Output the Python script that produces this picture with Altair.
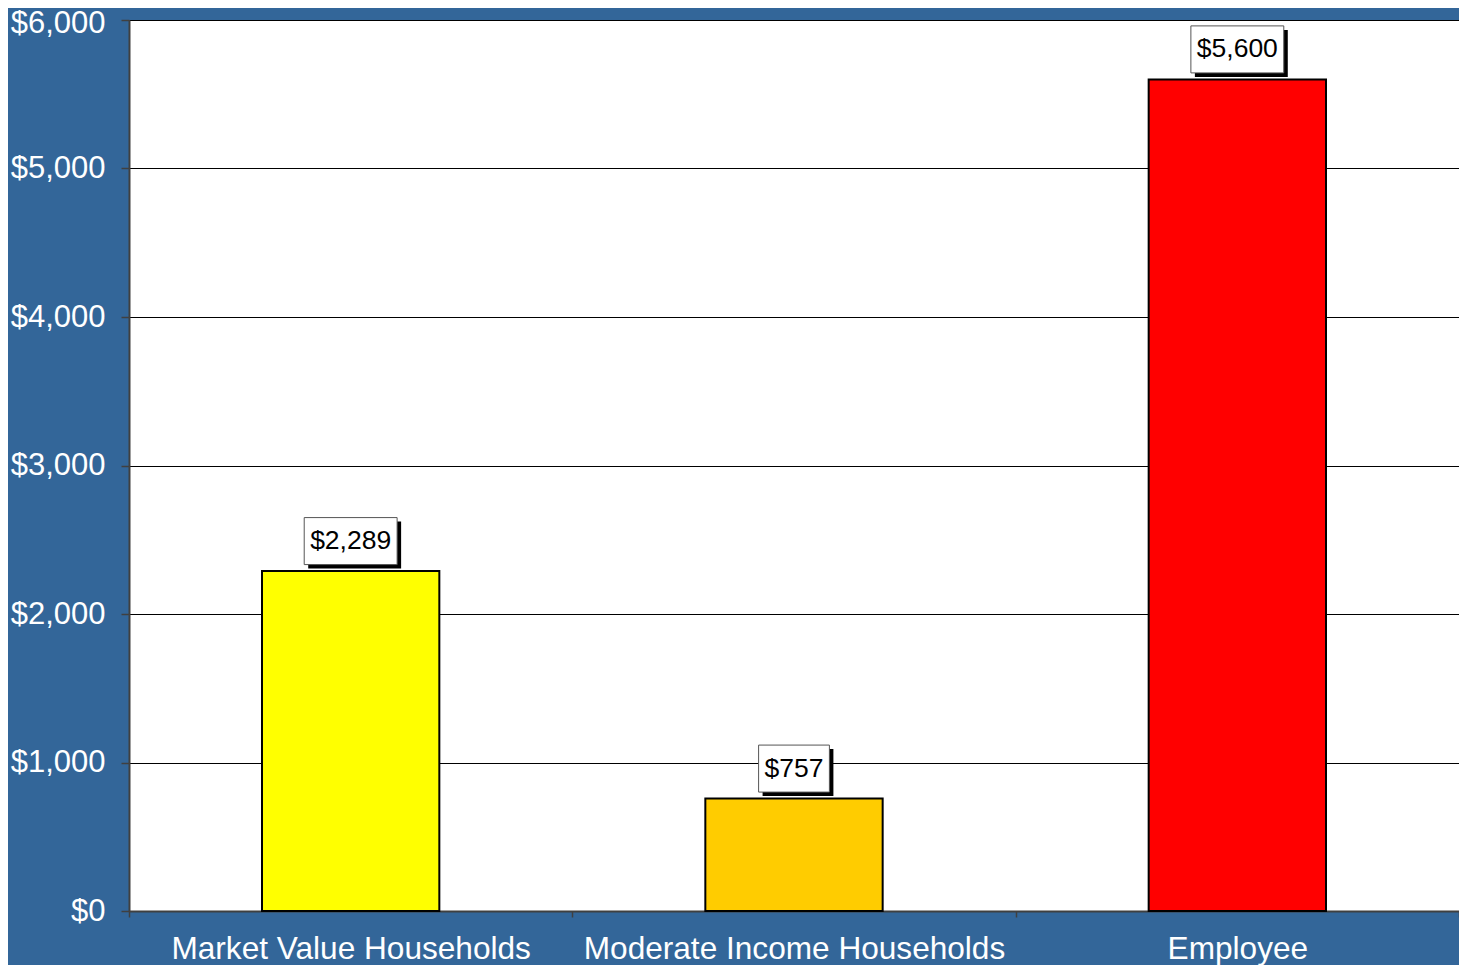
import altair as alt
import pandas as pd

categories = ["Market Value Households", "Moderate Income Households", "Employee"]
values = [2289, 757, 5600]
bar_colors = ["#FFFF00", "#FFCC00", "#FF0000"]
y_ticks = [0, 1000, 2000, 3000, 4000, 5000, 6000]

df = pd.DataFrame({"category": categories, "value": values})

# label box shapes sized from label text length (approx Arial width at 26.5px)
def label_text(v):
    return "${:,.0f}".format(v)

def box_path(txt):
    w = 0
    for ch in txt:
        w += 7.4 if ch == "," else 14.7
    hw = (w + 12) / 100.0
    hh = 0.47
    return f"M{-hw:.3f},{-hh}L{hw:.3f},{-hh}L{hw:.3f},{hh}L{-hw:.3f},{hh}Z"

paths = [box_path(label_text(v)) for v in values]

FONT = "Liberation Sans"
BG = "#336699"

x_enc = alt.X("category:N", sort=categories,
              scale=alt.Scale(paddingInner=0, paddingOuter=0),
              axis=alt.Axis(title=None, labelColor="white", labelFontSize=31.6, labelFont=FONT,
                            labelAngle=0, labelPadding=16, labelLimit=0, tickSize=6, tickColor="#404040",
                            tickWidth=1.5, domainColor="#404040", domainWidth=2,
                            tickBand="extent", grid=False, labelBaseline="top"))
y_enc = alt.Y("value:Q", scale=alt.Scale(domain=[0, 6000], nice=False),
              axis=alt.Axis(title=None, values=y_ticks, format="$,.0f", labelColor="white",
                            labelFontSize=31, labelFont=FONT, labelPadding=16, tickSize=8,
                            labelOffset={"condition": {"test": "datum.value == 6000", "value": 3}, "value": 0},
                            tickColor="#404040", tickWidth=1.5, domainColor="#404040", domainWidth=2,
                            grid=True, gridColor="black", gridWidth=1))

base = alt.Chart(df)

bars = base.mark_bar(stroke="black", strokeWidth=2, width=alt.RelativeBandSize(0.4)).encode(
    x=x_enc, y=y_enc,
    color=alt.Color("category:N", scale=alt.Scale(domain=categories, range=bar_colors), legend=None),
)

shape_enc = alt.Shape("category:N", scale=alt.Scale(domain=categories, range=paths), legend=None)

shadow = base.mark_point(filled=True, fill="black", size=10000, xOffset=4, yOffset=-26, opacity=1).encode(
    x=alt.X("category:N", sort=categories), y="value:Q", shape=shape_enc
)
box = base.mark_point(filled=True, fill="white", stroke="#555555", strokeWidth=1, size=10000,
                      yOffset=-30, opacity=1).encode(
    x=alt.X("category:N", sort=categories), y="value:Q", shape=shape_enc
)
text = base.mark_text(fontSize=26.5, font=FONT, color="black", dy=-30, baseline="middle").encode(
    x=alt.X("category:N", sort=categories), y="value:Q",
    text=alt.Text("value:Q", format="$,.0f"),
)

chart = alt.layer(bars, shadow, box, text).properties(
    width=1330, height=891,
    autosize=alt.AutoSizeParams(type="none"),
    padding={"left": 121, "top": 12, "right": 0, "bottom": 54},
    background=BG,
).configure_view(fill="white", stroke="#808080", strokeWidth=1)

chart.save("out.html", embed_options={"renderer": "svg", "actions": False})
